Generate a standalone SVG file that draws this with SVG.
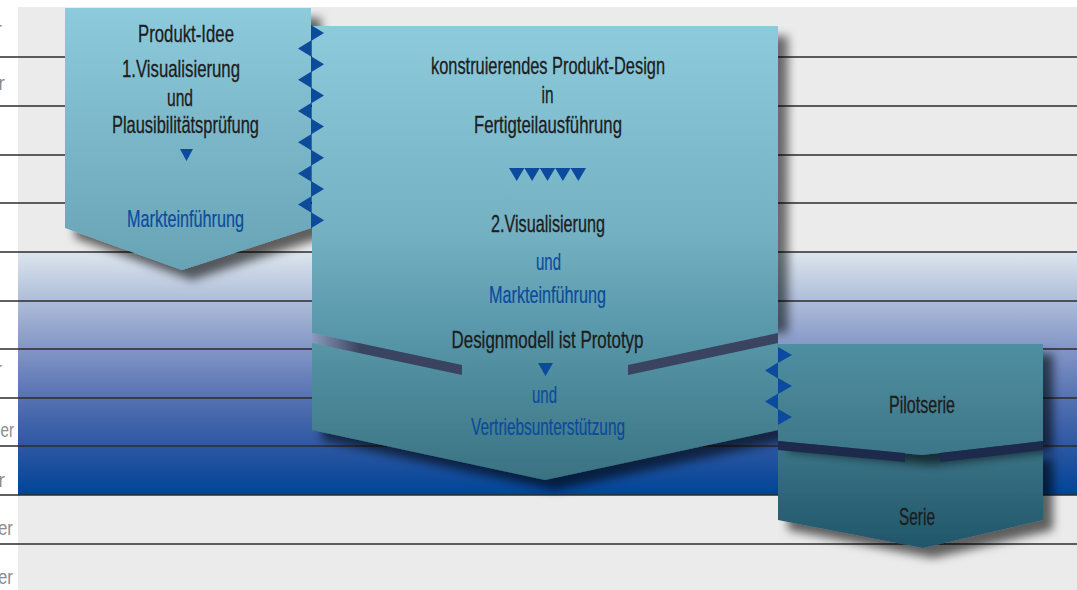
<svg xmlns="http://www.w3.org/2000/svg" width="1077" height="590" viewBox="0 0 1077 590">
<defs>
<style>
.t{font-family:"Liberation Sans",Arial,sans-serif;font-size:24px;fill:#1c1c1c;stroke:#1c1c1c;stroke-width:0.3;text-anchor:middle}
.b{fill:#0b4a9c;stroke:#0b4a9c;stroke-width:0.2}
.lbl{font-family:"Liberation Sans",Arial,sans-serif;font-size:21px;fill:#8c8c8c;text-anchor:end}
.grid{stroke:#2b2b2b;stroke-width:1.3}
.tooth{fill:#0b4a9c}
</style>
<linearGradient id="band" x1="0" y1="252" x2="0" y2="495" gradientUnits="userSpaceOnUse">
<stop offset="0" stop-color="#dce6ee"/>
<stop offset="0.2" stop-color="#aebdd9"/>
<stop offset="0.4" stop-color="#8295c6"/>
<stop offset="0.6" stop-color="#5572b2"/>
<stop offset="0.8" stop-color="#2c57a2"/>
<stop offset="1" stop-color="#004497"/>
</linearGradient>
<linearGradient id="gLeft" x1="0" y1="8" x2="0" y2="270" gradientUnits="userSpaceOnUse">
<stop offset="0" stop-color="#8dcadc"/>
<stop offset="1" stop-color="#67a3b5"/>
</linearGradient>
<linearGradient id="gMid" x1="0" y1="26" x2="0" y2="480" gradientUnits="userSpaceOnUse">
<stop offset="0" stop-color="#8dcadc"/>
<stop offset="0.45" stop-color="#74b1c3"/>
<stop offset="0.68" stop-color="#5797a9"/>
<stop offset="1" stop-color="#3a7282"/>
</linearGradient>
<linearGradient id="gPilot" x1="0" y1="344" x2="0" y2="455" gradientUnits="userSpaceOnUse">
<stop offset="0" stop-color="#4f8fa1"/>
<stop offset="1" stop-color="#3c7688"/>
</linearGradient>
<linearGradient id="gSerie" x1="0" y1="450" x2="0" y2="548" gradientUnits="userSpaceOnUse">
<stop offset="0" stop-color="#3a7386"/>
<stop offset="1" stop-color="#22566a"/>
</linearGradient>
<linearGradient id="gStripeL" x1="300" y1="0" x2="360" y2="0" gradientUnits="userSpaceOnUse">
<stop offset="0" stop-color="#9fb0d4"/>
<stop offset="1" stop-color="#3a4460"/>
</linearGradient>
<filter id="sh" x="-10%" y="-10%" width="130%" height="140%">
<feDropShadow dx="10" dy="10" stdDeviation="5" flood-color="#000" flood-opacity="0.6"/>
</filter>
<filter id="blur" x="-10%" y="-10%" width="130%" height="130%">
<feGaussianBlur stdDeviation="5"/>
</filter>
</defs>

<g id="background">
<rect x="18" y="7" width="1059" height="583" fill="#ebebeb"/>
<rect x="18" y="252" width="1059" height="243" fill="url(#band)"/>
<g class="grid">
<line x1="0" y1="57" x2="1077" y2="57"/>
<line x1="0" y1="106" x2="1077" y2="106"/>
<line x1="0" y1="155" x2="1077" y2="155"/>
<line x1="0" y1="203" x2="1077" y2="203"/>
<line x1="0" y1="252" x2="1077" y2="252"/>
<line x1="0" y1="301" x2="1077" y2="301"/>
<line x1="0" y1="349" x2="1077" y2="349"/>
<line x1="0" y1="398" x2="1077" y2="398"/>
<line x1="0" y1="446" x2="1077" y2="446"/>
<line x1="0" y1="495" x2="1077" y2="495"/>
<line x1="0" y1="544" x2="1077" y2="544"/>
</g>
<text class="lbl" x="2" y="36">r</text>
<text class="lbl" x="5" y="90">r</text>
<text class="lbl" x="2" y="376">r</text>
<text class="lbl" x="14" y="437" textLength="22" lengthAdjust="spacingAndGlyphs">ber</text>
<text class="lbl" x="5" y="487">r</text>
<text class="lbl" x="13" y="535" textLength="15" lengthAdjust="spacingAndGlyphs">er</text>
<text class="lbl" x="13" y="584" textLength="15" lengthAdjust="spacingAndGlyphs">er</text>
</g>

<g id="node-produkt-idee">
<polygon points="65,8 311,8 311,228 182,270 65,228" fill="url(#gLeft)" filter="url(#sh)"/>
<text class="t" x="186" y="42" textLength="96" lengthAdjust="spacingAndGlyphs">Produkt-Idee</text>
<text class="t" x="181" y="77" textLength="118" lengthAdjust="spacingAndGlyphs">1.Visualisierung</text>
<text class="t" x="180" y="106" textLength="26" lengthAdjust="spacingAndGlyphs">und</text>
<text class="t" x="185.5" y="133" textLength="147" lengthAdjust="spacingAndGlyphs">Plausibilitätsprüfung</text>
<polygon class="tooth" points="180,149 193,149 186.5,161"/>
<text class="t b" x="185.5" y="227" textLength="117" lengthAdjust="spacingAndGlyphs">Markteinführung</text>
</g>

<g id="node-prototyp">
<polygon points="312,343 778,343 778,430 545,480 312,430" fill="url(#gMid)" filter="url(#sh)"/>
</g>

<g id="node-produkt-design">
<rect x="322" y="36" width="466" height="297" fill="#000" opacity="0.55" filter="url(#blur)"/>
<polygon points="312,26 778,26 778,333 545,383 312,333" fill="url(#gMid)"/>
<polygon points="312,333 462,365 462,375 312,343" fill="url(#gStripeL)"/>
<polygon points="628,365 778,333 778,343 628,375" fill="#3a4460"/>
<text class="t" x="548" y="74" textLength="234" lengthAdjust="spacingAndGlyphs">konstruierendes Produkt-Design</text>
<text class="t" x="547.5" y="103" textLength="12" lengthAdjust="spacingAndGlyphs">in</text>
<text class="t" x="548" y="133" textLength="148" lengthAdjust="spacingAndGlyphs">Fertigteilausführung</text>
<polygon class="tooth" points="509,168 524.4,168 516.7,181"/>
<polygon class="tooth" points="524.4,168 539.8,168 532.1,181"/>
<polygon class="tooth" points="539.8,168 555.2,168 547.5,181"/>
<polygon class="tooth" points="555.2,168 570.6,168 562.9,181"/>
<polygon class="tooth" points="570.6,168 586,168 578.3,181"/>
<text class="t" x="548" y="232" textLength="114" lengthAdjust="spacingAndGlyphs">2.Visualisierung</text>
<text class="t b" x="548.5" y="270" textLength="25" lengthAdjust="spacingAndGlyphs">und</text>
<text class="t b" x="547.5" y="303" textLength="117" lengthAdjust="spacingAndGlyphs">Markteinführung</text>
</g>

<g id="node-prototyp-text">
<text class="t" x="547.5" y="348" textLength="192" lengthAdjust="spacingAndGlyphs">Designmodell ist Prototyp</text>
<polygon class="tooth" points="538,363 553,363 545.5,376"/>
<text class="t b" x="544.5" y="403" textLength="25" lengthAdjust="spacingAndGlyphs">und</text>
<text class="t b" x="548" y="435" textLength="154" lengthAdjust="spacingAndGlyphs">Vertriebsunterstützung</text>
</g>

<g id="node-serie">
<polygon points="778,448 1043,448 1043,520 923,548 778,520" fill="url(#gSerie)" filter="url(#sh)"/>
<text class="t" x="917" y="525" textLength="36" lengthAdjust="spacingAndGlyphs">Serie</text>
</g>

<g id="node-pilotserie">
<polygon points="778,344 1043,344 1043,441 922,455 778,441" fill="url(#gPilot)" filter="url(#sh)"/>
<polygon points="778,441 905,453 905,462 778,450" fill="#1d2a4c"/>
<polygon points="940,453 1043,441 1043,450 940,462" fill="#1d2a4c"/>
<text class="t" x="922" y="413" textLength="66" lengthAdjust="spacingAndGlyphs">Pilotserie</text>
</g>

<g id="connectors">
<g class="tooth">
<polygon points="311,25 324,33 311,41"/>
<polygon points="311,56.2 324,64.2 311,72.2"/>
<polygon points="311,87.4 324,95.4 311,103.4"/>
<polygon points="311,118.6 324,126.6 311,134.6"/>
<polygon points="311,149.8 324,157.8 311,165.8"/>
<polygon points="311,181 324,189 311,197"/>
<polygon points="311,212.2 324,220.2 311,228.2"/>
<polygon points="311,40.6 298,48.6 311,56.6"/>
<polygon points="311,71.8 298,79.8 311,87.8"/>
<polygon points="311,103 298,111 311,119"/>
<polygon points="311,134.2 298,142.2 311,150.2"/>
<polygon points="311,165.4 298,173.4 311,181.4"/>
<polygon points="311,196.6 298,204.6 311,212.6"/>
<polygon points="778,347 792,355 778,363"/>
<polygon points="778,378 792,386 778,394"/>
<polygon points="778,409 792,417 778,425"/>
<polygon points="778,362.5 765,370.5 778,378.5"/>
<polygon points="778,393.5 765,401.5 778,409.5"/>
</g>
</g>
</svg>
